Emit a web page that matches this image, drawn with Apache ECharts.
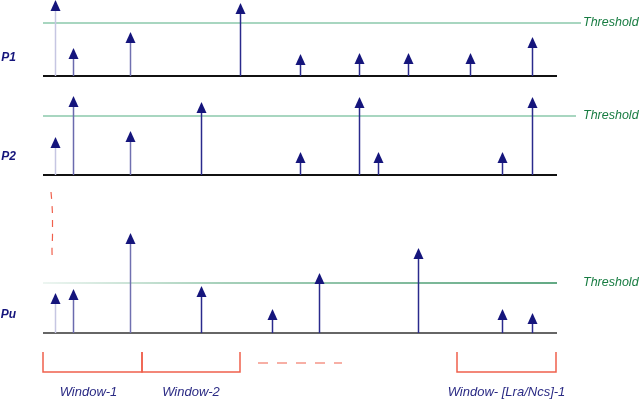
<!DOCTYPE html>
<html>
<head>
<meta charset="utf-8">
<script src="https://cdn.jsdelivr.net/npm/echarts@6/dist/echarts.min.js"></script>
<style>
  html, body { margin: 0; padding: 0; background: #fff; }
  #main { width: 640px; height: 399px; }
</style>
</head>
<body>
<div id="main"></div>
<script>
// sample times and pulse heights per row
var p1Times = [12, 30, 87, 197, 257, 316, 365, 427, 489];
var p1Amps = [76, 28, 44, 73, 22, 23, 23, 23, 39];
var p2Times = [12, 30, 87, 158, 257, 316, 335, 459, 489];
var p2Amps = [38, 79, 44, 73, 23, 78, 23, 23, 78];
var puTimes = [12, 30, 87, 158, 229, 276, 375, 459, 489];
var puAmps = [40, 44, 100, 47, 24, 60, 85, 24, 20];
var thresholds = [53, 59, 50];
var rowNames = ['P1', 'P2', 'Pu'];
var lineEnds = [538, 533, 514];
var windowEdges = [[0, 99], [99, 197], [414, 513]];
var windowNames = ['Window-1', 'Window-2', 'Window- [Lra/Ncs]-1'];
var gapDash = [[215, 9], [299, 9]];
var skipCurve = [[8, 141], [9, 128], [9.5, 113], [9.5, 98], [9, 83], [9.5, 71]];

var NAVY = '#15157c';
var RED = '#f0604c';
var stemTone = { 12: '#c6c6e2', 30: '#6a6aae', 87: '#7070b0' };

var rows = [
  { times: p1Times, amps: p1Amps, top: 0, height: 76, base: '#111' },
  { times: p2Times, amps: p2Amps, top: 90, height: 85, base: '#111' },
  { times: puTimes, amps: puAmps, top: 185, height: 148, base: '#666' }
];

function pulseItem(params, api) {
  var t = api.value(0), v = api.value(1);
  var p0 = api.coord([t, 0]);
  var p1 = api.coord([t, v]);
  var x = Math.round(p0[0]) + 0.5;
  return {
    type: 'group',
    children: [
      { type: 'line', shape: { x1: x, y1: p0[1], x2: x, y2: p1[1] + 8 },
        style: { stroke: stemTone[t] || '#2a2a8c', lineWidth: 1.5 } },
      { type: 'polygon', shape: { points: [[x, p1[1]], [x - 5, p1[1] + 11], [x + 5, p1[1] + 11]] },
        style: { fill: NAVY } }
    ]
  };
}

var grids = [], xAxes = [], yAxes = [], series = [];
rows.forEach(function (r, i) {
  grids.push({ left: 43, width: 540, top: r.top, height: r.height, outerBoundsMode: 'none' });
  xAxes.push({ type: 'value', gridIndex: i, min: 0, max: 540, show: false });
  yAxes.push({
    type: 'value', gridIndex: i, min: 0, max: r.height,
    axisLine: { show: false }, axisTick: { show: false }, splitLine: { show: false },
    axisLabel: {
      customValues: [18], margin: 27, formatter: function () { return rowNames[i]; },
      color: NAVY, fontWeight: 'bold', fontStyle: 'italic', fontSize: 12, fontFamily: 'Liberation Sans'
    }
  });
  var thrColor = i < 2 ? '#a8d6c0' : new echarts.graphic.LinearGradient(0, 0, 1, 0, [
    { offset: 0, color: '#eef6f2' }, { offset: 0.35, color: '#a6d0ba' }, { offset: 1, color: '#62a984' }
  ]);
  series.push({
    type: 'line', xAxisIndex: i, yAxisIndex: i, data: [], silent: true,
    markLine: {
      silent: true, symbol: ['none', 'none'], animation: false,
      data: [
        [{ coord: [0, 0], lineStyle: { color: r.base, width: 2, type: 'solid' }, label: { show: false } },
         { coord: [514, 0] }],
        [{ coord: [0, thresholds[i]], lineStyle: { color: thrColor, width: 2, type: 'solid' },
           label: { show: true, position: 'end', distance: 583 - 43 - lineEnds[i], formatter: 'Threshold',
                    color: '#187c42', fontStyle: 'italic', fontSize: 12.5, fontFamily: 'Liberation Sans' } },
         { coord: [lineEnds[i], thresholds[i]] }]
      ]
    }
  });
  series.push({
    type: 'custom', xAxisIndex: i, yAxisIndex: i, renderItem: pulseItem, z: 10,
    data: r.times.map(function (t, k) { return [t, r.amps[k]]; }), silent: true
  });
});

// window bracket row
grids.push({ left: 43, width: 540, top: 352, height: 20, outerBoundsMode: 'none' });
xAxes.push({ type: 'value', gridIndex: 3, min: 0, max: 540, show: false });
yAxes.push({ type: 'value', gridIndex: 3, min: 0, max: 20, show: false });
series.push({
  type: 'custom', xAxisIndex: 3, yAxisIndex: 3, silent: true,
  data: windowEdges.map(function (w, k) { return [w[0], w[1], k]; }),
  renderItem: function (params, api) {
    var a = api.coord([api.value(0), 0]), b = api.coord([api.value(1), 20]);
    var y0 = a[1], y1 = b[1];
    return {
      type: 'group',
      children: [
        { type: 'polyline', shape: { points: [[a[0], y1], [a[0], y0], [b[0], y0], [b[0], y1]] },
          style: { stroke: RED, lineWidth: 1.5, fill: null } },
        { type: 'text', x: (a[0] + b[0]) / 2 - (api.value(2) === 0 ? 4 : 0), y: y0 + 20,
          style: { text: windowNames[api.value(2)], align: 'center', verticalAlign: 'middle',
                   fill: '#2a2a84', fontStyle: 'italic', fontSize: 13, fontFamily: 'Liberation Sans' } }
      ]
    };
  }
});
series.push({
  type: 'line', xAxisIndex: 3, yAxisIndex: 3, data: gapDash, symbol: 'none', silent: true,
  lineStyle: { color: RED, width: 1.2, type: [10, 9] }
});
series.push({
  type: 'line', xAxisIndex: 2, yAxisIndex: 2, data: skipCurve, symbol: 'none', smooth: true, silent: true,
  lineStyle: { color: RED, width: 1.2, type: [7, 7] }
});

var myChart = echarts.init(document.getElementById('main'));
myChart.setOption({
  animation: false,
  backgroundColor: '#fff',
  grid: grids,
  xAxis: xAxes,
  yAxis: yAxes,
  series: series
});
</script>
</body>
</html>
